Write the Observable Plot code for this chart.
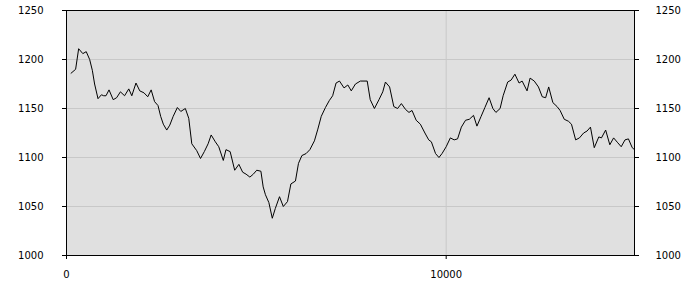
<!DOCTYPE html>
<html>
<head>
<meta charset="utf-8">
<script src="https://cdn.jsdelivr.net/npm/d3@7"></script>
<script src="https://cdn.jsdelivr.net/npm/@observablehq/plot@0.6"></script>
<style>
  html, body { margin: 0; padding: 0; background: #ffffff; }
  #chart { width: 700px; height: 300px; }
</style>
</head>
<body>
<div id="chart"></div>
<script>
const xValues = [
  120, 240, 320, 430, 520, 610, 680, 740, 830, 920, 980, 1040, 1120, 1230, 1320, 1420, 1530, 1640, 1720, 1830,
  1930, 2040, 2140, 2230, 2320, 2410, 2480, 2550, 2640, 2720, 2810, 2920, 3010, 3130, 3220, 3300, 3430, 3530, 3630, 3730,
  3810, 3920, 4010, 4130, 4200, 4310, 4430, 4540, 4640, 4730, 4830, 4920, 5010, 5120, 5180, 5240, 5330, 5420, 5500, 5610,
  5710, 5820, 5910, 6030, 6110, 6200, 6310, 6410, 6530, 6620, 6710, 6820, 6920, 7010, 7100, 7190, 7310, 7410, 7500, 7610,
  7740, 7920, 8000, 8110, 8230, 8330, 8400, 8510, 8620, 8720, 8820, 8930, 9020, 9100, 9210, 9320, 9440, 9540, 9610, 9720,
  9810, 9890, 10000, 10110, 10210, 10300, 10400, 10510, 10610, 10720, 10810, 10920, 11020, 11130, 11230, 11310, 11420, 11500, 11620, 11710,
  11810, 11920, 12000, 12130, 12210, 12320, 12430, 12530, 12620, 12700, 12810, 12920, 13000, 13110, 13220, 13300, 13410, 13510, 13620, 13710,
  13800, 13900, 14020, 14090, 14200, 14310, 14410, 14520, 14610, 14710, 14800, 14900, 14960
];
const yValues = [
  1186, 1190, 1211, 1206, 1208, 1200, 1189, 1175, 1160, 1164, 1163, 1163, 1169, 1159, 1161, 1167, 1163, 1170, 1163, 1176,
  1168, 1166, 1162, 1169, 1157, 1153, 1142, 1134, 1128, 1133, 1142, 1151, 1147, 1150, 1140, 1114, 1107, 1099, 1106, 1114,
  1123, 1116, 1111, 1097, 1108, 1106, 1087, 1093, 1085, 1083, 1080, 1083, 1087, 1086, 1070, 1062, 1054, 1038, 1048, 1060,
  1050, 1055, 1073, 1076, 1094, 1102, 1104, 1108, 1117, 1129, 1142, 1151, 1158, 1163, 1176, 1178, 1171, 1174, 1168, 1175,
  1178, 1178, 1159, 1150, 1159, 1167, 1177, 1172, 1152, 1150, 1155, 1149, 1146, 1148, 1138, 1134, 1125, 1118, 1116, 1104,
  1100, 1104, 1111, 1120, 1118, 1119, 1131, 1138, 1139, 1143, 1132, 1142, 1151, 1161, 1150, 1146, 1150, 1163, 1177, 1179,
  1185, 1176, 1178, 1168, 1181, 1178, 1172, 1162, 1161, 1172, 1156, 1152, 1148, 1139, 1137, 1134, 1118, 1120, 1125, 1127,
  1131, 1110, 1121, 1120, 1128, 1113, 1120, 1115, 1111, 1118, 1119, 1110, 1108
];
const yTicks = [1000, 1050, 1100, 1150, 1200, 1250];
const xTicks = [0, 10000];

const data = xValues.map((x, i) => ({x, y: yValues[i]}));
const plain = d => String(d);

const chart = Plot.plot({
  width: 700,
  height: 300,
  marginLeft: 66,
  marginRight: 66,
  marginTop: 10,
  marginBottom: 45,
  style: {fontFamily: "DejaVu Sans, sans-serif", fontSize: "10px", background: "#ffffff", color: "#000000"},
  x: {domain: [0, 14960]},
  y: {domain: [1000, 1250]},
  marks: [
    Plot.frame({fill: "#e0e0e0", stroke: "none"}),
    Plot.gridY(yTicks, {stroke: "#c8c8c8", strokeOpacity: 1}),
    Plot.gridX(xTicks.slice(1), {stroke: "#c8c8c8", strokeOpacity: 1}),
    Plot.line(data, {x: "x", y: "y", stroke: "#000000", strokeWidth: 1}),
    Plot.frame({stroke: "#000000"}),
    Plot.axisY(yTicks, {anchor: "left", tickSize: 4, tickPadding: 19, tickFormat: plain, label: null}),
    Plot.axisY(yTicks, {anchor: "right", tickSize: 4, tickPadding: 17, tickFormat: plain, label: null}),
    Plot.axisX(xTicks, {anchor: "bottom", tickSize: 4, tickPadding: 11, tickFormat: plain, label: null})
  ]
});
document.getElementById("chart").appendChild(chart);
</script>
</body>
</html>
